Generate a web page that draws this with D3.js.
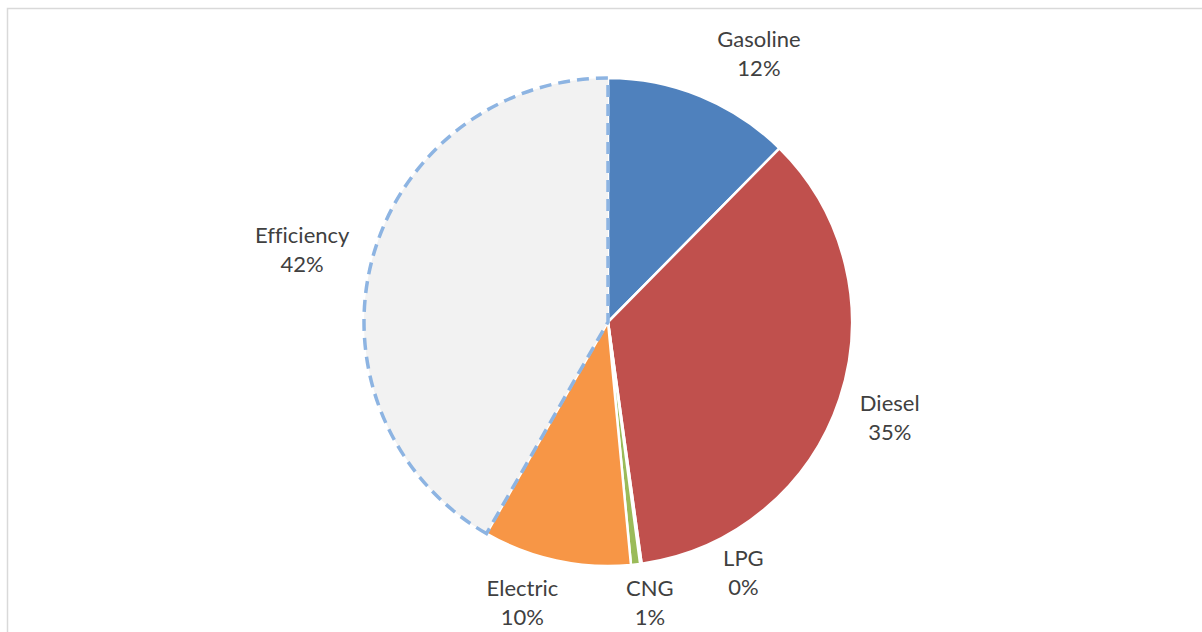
<!DOCTYPE html>
<html>
<head>
<meta charset="utf-8">
<script src="https://cdn.jsdelivr.net/npm/d3@7"></script>
<style>
  html, body { margin: 0; padding: 0; background: #ffffff; overflow: hidden; }
  svg { display: block; }
  text.label { font-variant-ligatures: none; font-feature-settings: "liga" 0; }
</style>
</head>
<body>
<svg id="chart" width="1202" height="632"></svg>
<script>
// Share of fuel / energy by source (percent)
const categories = ["Gasoline", "Diesel", "LPG", "CNG", "Electric", "Efficiency"];
const shares = [12.4, 35.4, 0.1, 0.6, 9.8, 41.7];
const colors = ["#4F81BD", "#C0504D", "#8064A2", "#9BBB59", "#F79646", "#F2F2F2"];

const width = 1202, height = 632;
const cx = 608, cy = 322, radius = 244;

const svg = d3.select("#chart");

// Chart area frame (only its top and left edges fall inside the view)
svg.append("rect")
  .attr("x", 7.5).attr("y", 8.5)
  .attr("width", width + 20).attr("height", height + 20)
  .attr("fill", "#ffffff")
  .attr("stroke", "#D9D9D9")
  .attr("stroke-width", 1.5);

const data = categories.map((name, i) => ({ name, value: shares[i], color: colors[i] }));
const total = d3.sum(shares);

const pie = d3.pie().sort(null).value(d => d.value);
const arcs = pie(data);
const arc = d3.arc().innerRadius(0).outerRadius(radius);

const g = svg.append("g").attr("transform", `translate(${cx},${cy})`);

// Solid slices with white separators
g.selectAll("path.slice")
  .data(arcs.filter(a => a.data.name !== "Efficiency"))
  .join("path")
  .attr("class", "slice")
  .attr("d", arc)
  .attr("fill", d => d.data.color)
  .attr("stroke", "#ffffff")
  .attr("stroke-width", 2.5)
  .attr("stroke-linejoin", "round");

// Efficiency slice: light fill with a dashed blue outline
g.selectAll("path.eff")
  .data(arcs.filter(a => a.data.name === "Efficiency"))
  .join("path")
  .attr("class", "eff")
  .attr("d", arc)
  .attr("fill", d => d.data.color)
  .attr("stroke", "#8DB4E2")
  .attr("stroke-width", 3.5)
  .attr("stroke-dasharray", "12,7");

// Data labels outside each slice; nudges keep crowded labels apart
const labelRadius = 300;
const nudge = {
  Gasoline: [37, 10],
  Diesel: [-3, 2],
  LPG: [95, -46],
  CNG: [8, -17],
  Electric: [-22, -12],
  Efficiency: [-16, 5]
};
const pct = d3.format(".0%");

const labels = g.selectAll("text.label")
  .data(arcs)
  .join("text")
  .attr("class", "label")
  .attr("text-anchor", "middle")
  .attr("font-family", "Lato, 'Open Sans', sans-serif")
  .attr("font-size", 22)
  .attr("fill", "#404040")
  .attr("transform", d => {
    const mid = (d.startAngle + d.endAngle) / 2;
    const [nx, ny] = nudge[d.data.name];
    const x = Math.sin(mid) * labelRadius + nx;
    const y = -Math.cos(mid) * labelRadius + ny;
    return `translate(${x},${y})`;
  });

labels.append("tspan")
  .attr("x", 0).attr("y", -7)
  .text(d => d.data.name);
labels.append("tspan")
  .attr("x", 0).attr("y", 22)
  .text(d => pct(d.data.value / total));
</script>
</body>
</html>
